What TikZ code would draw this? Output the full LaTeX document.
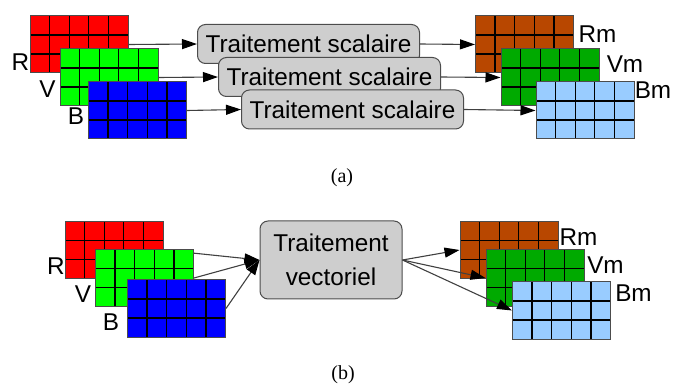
\documentclass[tikz,border=0pt]{standalone}
\usepackage{fontspec}
\setmainfont{Liberation Sans}
\newfontfamily\capfont{Liberation Serif}
\usetikzlibrary{arrows.meta,positioning}

\definecolor{rouge}{RGB}{255,0,0}
\definecolor{vert}{RGB}{0,255,0}
\definecolor{bleu}{RGB}{0,0,255}
\definecolor{brun}{RGB}{184,71,0}
\definecolor{vertm}{RGB}{0,170,0}
\definecolor{bleum}{RGB}{153,204,255}
\definecolor{boite}{RGB}{206,206,206}

\begin{document}
\begin{tikzpicture}[x=1pt,y=-1pt,>={Triangle[length=15pt,width=10pt,color=black]},
    plan/.style={rectangle,draw=black!70,line width=1pt,fill=#1,minimum width=98pt,minimum height=57pt,inner sep=0pt,
      path picture={
        \foreach \i in {1,...,4}
          \draw[black,line width=1.3pt] ([xshift=\i*19.6pt]path picture bounding box.south west)
            -- ([xshift=\i*19.6pt]path picture bounding box.north west);
        \foreach \j in {1,2}
          \draw[black,line width=1.3pt] ([yshift=\j*19pt]path picture bounding box.south west)
            -- ([yshift=\j*19pt]path picture bounding box.south east);}},
    trt/.style={rectangle,draw=black!70,line width=1pt,fill=boite,rounded corners=8pt,inner sep=0pt,
      minimum width=222pt,minimum height=39pt,align=center,font=\fontsize{24.3}{34}\selectfont},
    lbl/.style={inner sep=0pt,font=\fontsize{24.3}{28}\selectfont},
    fl/.style={->,draw=black!75,line width=1.1pt}]

    \useasboundingbox (0,0) rectangle (673,385);

    % (a) scalaire
    \node[trt] (t1) at (308.5,44) {Traitement scalaire};
    \node[plan=rouge] (ra) at (79,44.5) {};
    \node[lbl] (lra) at (20.5,62) {R};
    \draw[fl] (ra.east) -- (t1.west);
    \node[plan=vert] (va) at (109,77.5) {};
    \node[lbl] (lva) at (47.5,89) {V};
    \node[plan=bleu] (ba) at (137.5,110.5) {};
    \node[lbl] (lba) at (76,116.5) {B};
    \node[trt] (t2) at (329.5,77) {Traitement scalaire};
    \draw[fl] (va.east) -- (t2.west);
    \node[trt] (t3) at (352.5,109.5) {Traitement scalaire};
    \draw[fl] (ba.east) -- (t3.west);

    \node[plan=brun] (rma) at (524.5,44.5) {};
    \node[lbl] (lrma) at (597.5,34) {Rm};
    \node[plan=vertm] (vma) at (550,77.5) {};
    \node[lbl] (lvma) at (625,64.5) {Vm};
    \node[plan=bleum] (bma) at (585,110.5) {};
    \node[lbl] (lbma) at (653,90) {Bm};
    \draw[fl] (t1.east) -- (rma.west);
    \draw[fl] (t2.east) -- (vma.west);
    \draw[fl] (t3.east) -- (bma.west);

    \node[font=\capfont\fontsize{20}{22}\selectfont] (capa) at (342,178) {(a)};

    % (b) vectoriel
    \node[trt,minimum width=142pt,minimum height=78pt] (tv) at (331,260) {Traitement\\vectoriel};
    \node[plan=rouge] (rb) at (114,250) {};
    \node[lbl] (lrb) at (56,266) {R};
    \draw[fl] (rb.east) -- (tv.west);
    \node[plan=vert] (vb) at (144.5,278) {};
    \node[lbl] (lvb) at (83,294) {V};
    \draw[fl] (vb.east) -- (tv.west);
    \node[plan=bleu] (bb) at (176.5,308.5) {};
    \node[lbl] (lbb) at (111,322) {B};
    \draw[fl] (bb.east) -- (tv.west);

    \node[plan=brun] (rmb) at (509,250) {};
    \node[lbl] (lrmb) at (578.5,237) {Rm};
    \node[plan=vertm] (vmb) at (535,278) {};
    \node[lbl] (lvmb) at (605.5,265) {Vm};
    \node[plan=bleum] (bmb) at (561.5,310.5) {};
    \node[lbl] (lbmb) at (633.5,293) {Bm};
    \draw[fl] (tv.east) -- (rmb.west);
    \draw[fl] (tv.east) -- (vmb.west);
    \draw[fl] (tv.east) -- (bmb.west);

    \node[font=\capfont\fontsize{20}{22}\selectfont] (capb) at (343,375) {(b)};
\end{tikzpicture}
\end{document}
